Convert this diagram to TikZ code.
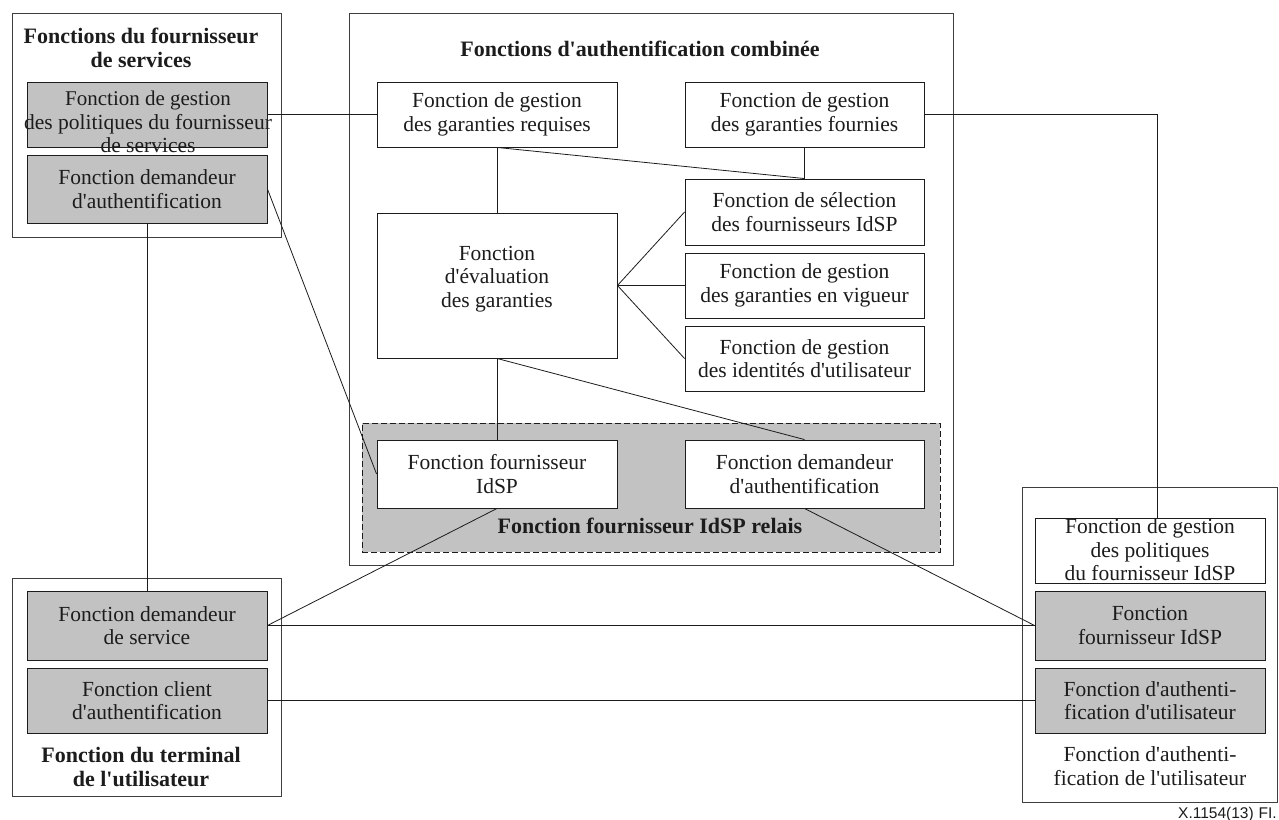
\documentclass[tikz,border=0pt]{standalone}
\usepackage{fontspec}
\setmainfont{Liberation Serif}[Ligatures=TeXOff]
\setsansfont{Liberation Sans}[Ligatures=TeXOff]
\definecolor{boxgray}{RGB}{194,194,194}
\definecolor{ink}{RGB}{28,28,28}
\begin{document}
\begin{tikzpicture}[x=1pt,y=-1pt,
  every node/.style={text=ink},
  fn/.style={draw=ink, line width=0.9pt, align=center, inner sep=0pt,
    minimum width=240pt, minimum height=65pt,
    font=\fontsize{21.5}{23.5}\selectfont},
  grayfn/.style={fn, fill=boxgray},
  whitefn/.style={fn, fill=white},
  outer/.style={draw=ink!85, line width=1pt, inner sep=0pt},
  txt/.style={align=center, inner sep=0pt, font=\fontsize{21.5}{23.5}\selectfont},
  ttl/.style={align=center, inner sep=0pt, font=\bfseries\fontsize{22}{24}\selectfont},
  link/.style={draw=ink, line width=0.8pt},
]
\useasboundingbox (0,0) rectangle (1279,819);

% containers
\node[outer, minimum width=269pt, minimum height=224pt] (spbox) at (146.5,125) {};
\node[outer, minimum width=604pt, minimum height=552pt] (combox) at (651,289) {};
\node[outer, minimum width=269pt, minimum height=218pt] (termbox) at (146.5,687) {};
\node[outer, minimum width=255pt, minimum height=315pt] (uafbox) at (1149.5,644.5) {};
\node[draw=ink, dash pattern=on 6pt off 3pt, line width=0.8pt, fill=boxgray, inner sep=0pt,
      minimum width=578pt, minimum height=129pt] (relais) at (651,487.5) {};

% titles
\node[ttl] (sptitle) at (141,47.5) {Fonctions du fournisseur\\de services};
\node[ttl] (combtitle) at (640,49) {Fonctions d'authentification combinée};
\node[ttl] (relaistitle) at (650,526) {Fonction fournisseur IdSP relais};
\node[ttl] (termtitle) at (141,767) {\fontsize{22}{22}\selectfont Fonction du terminal\\de l'utilisateur};
\node[txt] (uaftitle) at (1150,766) {Fonction d'authenti-\\fication de l'utilisateur};

% service provider functions
\node[grayfn] (spPol) at (147,114.5) {};
\node[txt] (spPolT) at (148,122) {\fontsize{21}{23.5}\selectfont Fonction de gestion\\des politiques du fournisseur\\de services};
\node[grayfn, minimum height=68pt] (spDem) at (147,189) {Fonction demandeur\\d'authentification};

% combined authentication functions
\node[whitefn] (req) at (497,114.5) {Fonction de gestion\\des garanties requises};
\node[whitefn, minimum width=239pt] (fourn) at (804.5,114.5) {Fonction de gestion\\des garanties fournies};
\node[whitefn, minimum width=239pt, minimum height=66pt] (sel) at (804.5,212) {Fonction de sélection\\des fournisseurs IdSP};
\node[whitefn, minimum height=145pt] (eval) at (497,285.5) {};
\node[txt] (evalT) at (497,279) {Fonction\\d'évaluation\\des garanties};
\node[whitefn, minimum width=239pt] (vig) at (804.5,285.5) {Fonction de gestion\\des garanties en vigueur};
\node[whitefn, minimum width=239pt] (ident) at (804.5,358.5) {Fonction de gestion\\des identités d'utilisateur};
\node[whitefn, minimum height=68pt] (cIdSP) at (497,474) {Fonction fournisseur\\IdSP};
\node[whitefn, minimum width=239pt, minimum height=68pt] (cDem) at (804.5,474) {Fonction demandeur\\d'authentification};

% user terminal
\node[grayfn, minimum height=69pt] (tDem) at (147,625.5) {Fonction demandeur\\de service};
\node[grayfn] (tCli) at (147,700.5) {Fonction client\\d'authentification};

% user authentication functions
\node[whitefn, minimum width=230pt] (uPol) at (1150,550.5) {};
\node[txt] (uPolT) at (1150,550) {\fontsize{21.5}{24}\selectfont Fonction de gestion\\des politiques\\du fournisseur IdSP};
\node[grayfn, minimum width=230pt, minimum height=69pt] (uFour) at (1150,625.5) {Fonction\\fournisseur IdSP};
\node[grayfn, minimum width=230pt] (uAuth) at (1150,700.5) {Fonction d'authenti-\\fication d'utilisateur};

\node[anchor=base east, inner sep=0pt, font=\sffamily\fontsize{15.5}{17}\selectfont] (fig) at (1277,818) {X.1154(13)\hspace{5pt}FI.};

% connectors
\coordinate (bend) at (1157,114.5);
\draw[link] (spPol.east) -- (req.west);
\draw[link] (fourn.east) -- (bend) -- (bend |- uPol.north);
\draw[link] (req.south) -- (eval.north);
\draw[link] (req.south) -- (sel.north);
\draw[link] (fourn.south) -- (sel.north);
\draw[link] (eval.east) -- (sel.west);
\draw[link] (eval.east) -- (vig.west);
\draw[link] (eval.east) -- (ident.west);
\draw[link] (eval.south) -- (cIdSP.north);
\draw[link] (eval.south) -- (cDem.north);
\draw[link] (spDem.east) -- (cIdSP.west);
\draw[link] (spDem.south) -- (tDem.north);
\draw[link] (cIdSP.south) -- (tDem.east);
\draw[link] (tDem.east) -- (uFour.west);
\draw[link] (cDem.south) -- (uFour.west);
\draw[link] (tCli.east) -- (uAuth.west);
\end{tikzpicture}
\end{document}
